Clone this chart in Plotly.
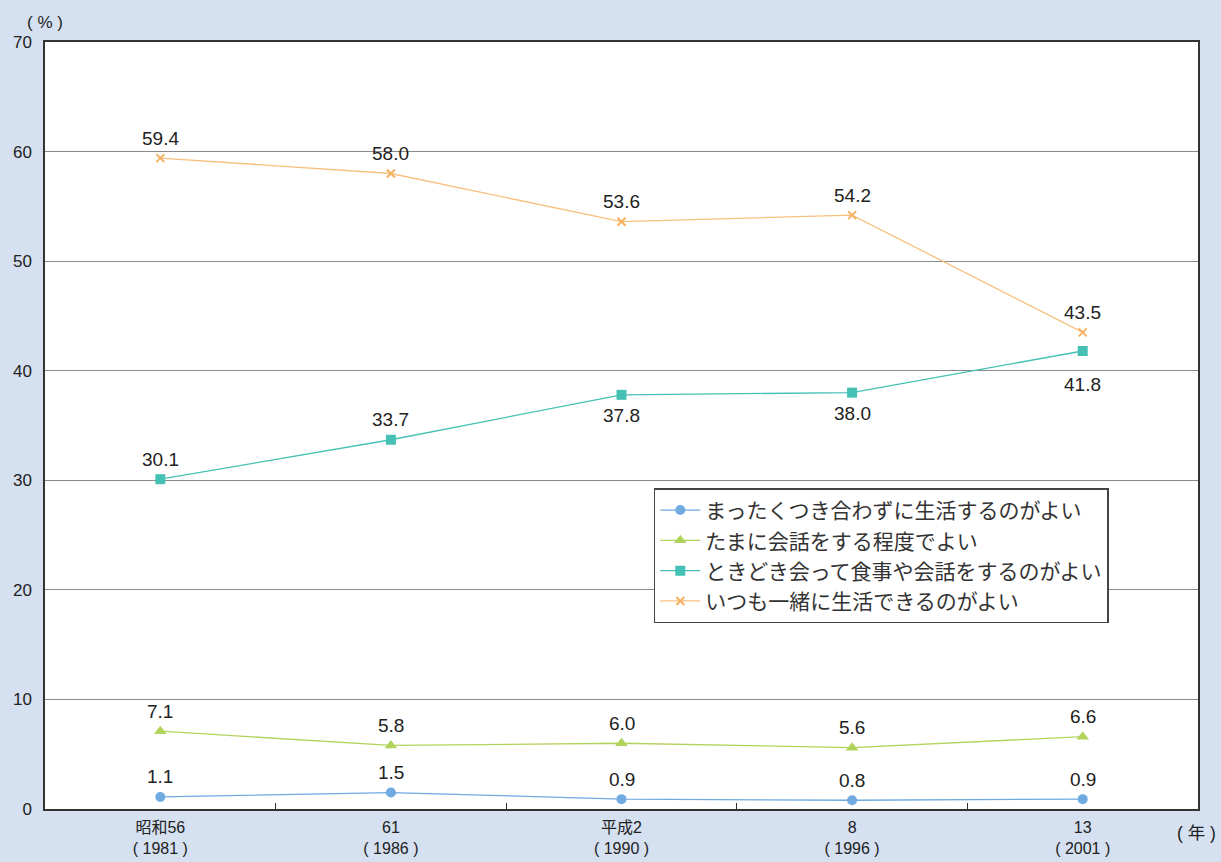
import plotly.graph_objects as go

categories = ["昭和56<br>( 1981 )", "61<br>( 1986 )", "平成2<br>( 1990 )", "8<br>( 1996 )", "13<br>( 2001 )"]
s_none = [1.1, 1.5, 0.9, 0.8, 0.9]
s_talk = [7.1, 5.8, 6.0, 5.6, 6.6]
s_meal = [30.1, 33.7, 37.8, 38.0, 41.8]
s_live = [59.4, 58.0, 53.6, 54.2, 43.5]
names = ["まったくつき合わずに生活するのがよい", "たまに会話をする程度でよい",
         "ときどき会って食事や会話をするのがよい", "いつも一緒に生活できるのがよい"]
# label placement per point: "a" = above, "b" = below, "bb" = further below
place_none = ["a"] * 5
place_talk = ["a"] * 5
place_meal = ["a", "a", "b", "b", "bb"]
place_live = ["a"] * 5
shift = {"a": 20, "b": -21, "bb": -34}

font = "Liberation Sans, Arial, Noto Sans CJK JP, sans-serif"
fig = go.Figure()
series = [
    (s_none, names[0], "#6FAAE0", dict(symbol="circle", size=10, color="#6FAAE0"), place_none),
    (s_talk, names[1], "#B2D35B", dict(symbol="triangle-up", size=11, color="#B2D35B"), place_talk),
    (s_meal, names[2], "#45C0B5", dict(symbol="square", size=10, color="#45C0B5"), place_meal),
    (s_live, names[3], "#F8C07E", dict(symbol="x-thin", size=8, color="#F5B060",
                                       line=dict(color="#F5B060", width=2)), place_live),
]
for vals, nm, col, mk, places in series:
    fig.add_trace(go.Scatter(x=categories, y=vals, name=nm, mode="lines+markers",
                             line=dict(color=col, width=1.3), marker=mk))
    for c, v, p in zip(categories, vals, places):
        fig.add_annotation(x=c, y=v, text=f"{v:.1f}", showarrow=False, yshift=shift[p],
                           font=dict(size=19, color="#222"))

fig.update_layout(
    width=1221, height=862,
    margin=dict(l=45, r=23, t=42, b=53, autoexpand=False),
    paper_bgcolor="#D5E0F0", plot_bgcolor="#FFFFFF",
    font=dict(family=font, size=16, color="#222"),
    showlegend=True,
    legend=dict(x=0.528, y=0.418, xanchor="left", yanchor="top",
                bgcolor="#FFFFFF", bordercolor="#444", borderwidth=1.5,
                font=dict(size=21, color="#333"), tracegroupgap=0,
                itemsizing="trace", itemwidth=40),
    xaxis=dict(type="category", tickson="boundaries", ticks="inside", ticklen=6,
               tickcolor="#333", showline=True, linecolor="#333", linewidth=1.5,
               mirror=True, showgrid=False, tickfont=dict(size=16, color="#222"),
               range=[-0.5, 4.5], automargin=False, ticklabelstandoff=3),
    yaxis=dict(range=[0, 70], dtick=10, showgrid=True, gridcolor="#8A8A8A", gridwidth=1,
               showline=True, linecolor="#333", linewidth=1.5, mirror=True,
               ticks="", tickfont=dict(size=17, color="#222"), zeroline=False,
               automargin=False, ticklabelstandoff=8),
)
fig.add_annotation(text="( % )", x=0.0, y=1.0, xref="paper", yref="paper",
                   xanchor="center", yanchor="bottom", yshift=8, showarrow=False,
                   font=dict(size=17, color="#222"))
fig.add_annotation(text="( 年 )", x=1.0173, y=0, xref="paper", yref="paper",
                   xanchor="right", yanchor="top", yshift=-12, showarrow=False,
                   font=dict(size=17.5, color="#222"))
fig.write_html("out.html")
